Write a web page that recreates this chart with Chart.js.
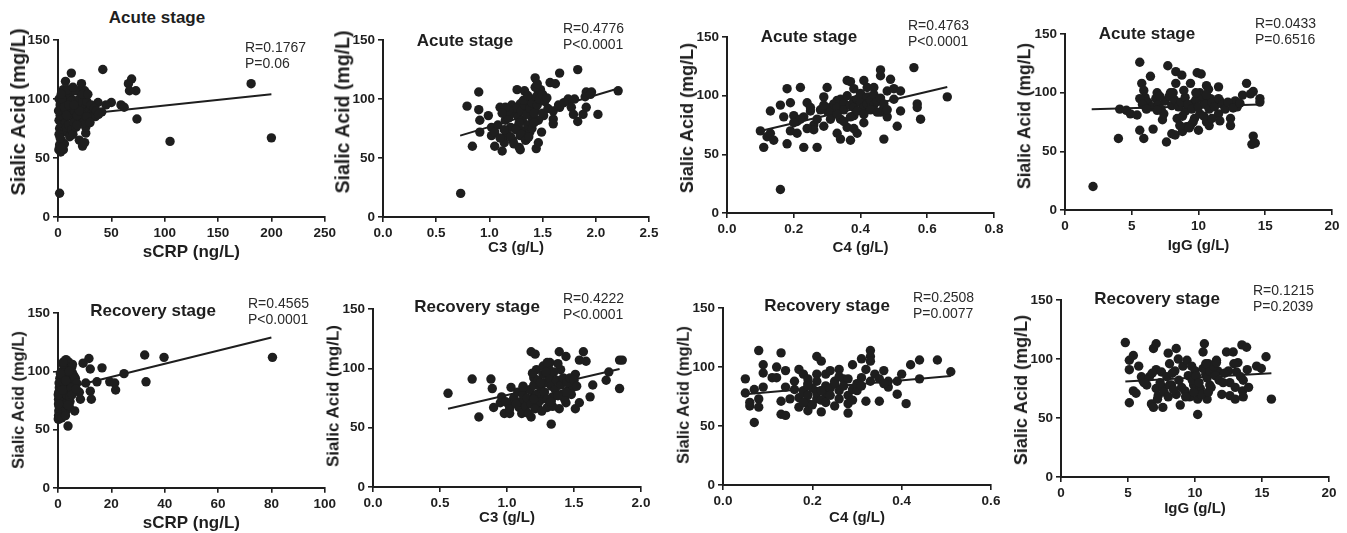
<!DOCTYPE html>
<html>
<head>
<meta charset="utf-8">
<script src="https://cdn.jsdelivr.net/npm/chart.js@4.4.1/dist/chart.umd.min.js"></script>
<style>
body{margin:0;background:#fff;width:1347px;height:533px;position:relative;overflow:hidden;font-family:Arial,"Liberation Sans",sans-serif;color:#1e1e1e;}
canvas{position:absolute;}
.lbl{position:absolute;white-space:nowrap;}
.ttl{font-weight:bold;font-size:17px;line-height:1;transform:translate(-50%,-50%);}
.stat{font-size:14px;line-height:16.5px;color:#2a2a2a;}
.ytl{font-weight:bold;line-height:1;transform:translate(-50%,-50%) rotate(-90deg);}
</style>
</head>
<body>
<script>

// sialic acid (mg/L) vs marker, pairs [x, y]
const acuteCrp = [
[1.5,20],[181,113],[200,67],[105,64],[74,83],[73,107],[69,117],[66,113],[67,107],[42,125],[50,97],[59,95],[62,93],[45,95],[37.5,97],[41,89],[35,85],[12.5,122],[7,115],[22,113],[25,107],[19,107],[6,99],[1,100],[20,65],[23,60],[25,63],[26,71],[26,76],[3,65],[1.5,61],[5,57],[6,62],[9,72],[12.5,71],[16,79],[1,82],[1.5,75],
[2,95],[3,88],[4,92],[5,84],[6,105],[8,102],[9,96],[10,88],[11,104],[12,93],[13,85],[14,99],[15,90],[16,107],[17,82],[18,95],[19,88],[20,100],[21,84],[22,92],[23,97],[24,87],[26,93],[27,98],[28,89],[29,84],[30,91],[31,95],[32,88],[33,86],[34,92],[36,90],[38,87],[3,78],[4,72],[7,80],[8,76],[10,78],[11,68],[13,74],[14,70],[15,80],[17,76],[18,86],[2,86],[0.5,90],[1,70],[2,67],[4,100],[5,108],[7,90],[9,108],[14,110],[12,98],[20,90],[24,80],[27,85],[30,80],[3,104],[6,93],[8,86],[10,95],[15,95],[18,78],[23,104],[28,104],[0.8,57],[2.5,55],[3,58]
];
const acuteC3 = [
[0.73,20],[0.79,94],[0.9,106],[0.9,91],[0.91,82],[0.91,72],[0.84,60],[0.99,86],[1.02,76],[1.02,69],[1.05,60],[1.1,93],[1.12,56],[1.14,63],[1.15,82],[1.16,70],[1.21,95],[1.22,65],[1.26,108],[1.28,59],[1.29,57],[1.33,107],[1.43,118],[1.44,58],[1.46,63],[1.49,72],[1.57,114],[1.62,113],[1.51,86],[1.66,122],[1.6,83],[1.6,79],[1.66,93],[1.74,100],[1.77,93],[1.79,87],[1.83,125],[1.83,81],[1.88,87],[1.91,93],[1.91,106],[1.96,106],[2.02,87],[2.21,107],[1.46,106],[1.48,99],[1.41,99],[1.35,90],[1.4,84],[1.32,73],[1.27,77],[1.2,76],[1.18,84],[1.24,89],[1.29,96],[1.37,97],[1.43,91],[1.46,82],[1.38,72],[1.35,66],[1.29,69],
[1.22,88],[1.25,92],[1.27,85],[1.3,90],[1.31,82],[1.33,95],[1.35,87],[1.36,78],[1.38,92],[1.4,97],[1.42,88],[1.44,102],[1.45,95],[1.47,100],[1.48,108],[1.5,104],[1.52,98],[1.54,101],[1.55,92],[1.43,110],[1.45,113],[1.28,80],[1.25,74],[1.3,70],[1.34,65],[1.37,68],[1.4,75],[1.42,80],[1.18,90],[1.15,93],[1.12,88],[1.08,78],[1.05,72],[1.2,68],[1.23,62],[1.32,99],[1.36,103],[1.5,88],[1.6,90],[1.65,95],[1.7,97],[1.8,100],[1.9,102],[1.95,104],[1.1,67],[1.14,74]
];
const acuteC4 = [
[0.16,20],[0.1,70],[0.11,56],[0.12,65],[0.13,68],[0.13,87],[0.14,62],[0.16,92],[0.17,82],[0.18,106],[0.18,59],[0.19,94],[0.19,70],[0.2,83],[0.21,78],[0.21,68],[0.22,107],[0.23,56],[0.24,94],[0.25,87],[0.26,75],[0.27,56],[0.26,71],[0.29,99],[0.3,107],[0.3,87],[0.31,90],[0.33,96],[0.33,68],[0.34,63],[0.34,80],[0.36,113],[0.37,112],[0.36,73],[0.37,62],[0.38,96],[0.38,106],[0.39,68],[0.38,83],[0.41,113],[0.41,77],[0.42,107],[0.41,97],[0.43,99],[0.44,107],[0.46,122],[0.46,117],[0.47,63],[0.47,90],[0.46,86],[0.48,104],[0.48,82],[0.49,114],[0.5,106],[0.5,97],[0.51,74],[0.52,104],[0.52,87],[0.56,124],[0.57,93],[0.57,90],[0.58,80],[0.66,99],
[0.28,88],[0.29,92],[0.31,86],[0.32,93],[0.33,90],[0.34,97],[0.35,94],[0.35,88],[0.36,100],[0.37,92],[0.38,90],[0.39,97],[0.4,102],[0.4,94],[0.41,90],[0.42,99],[0.42,93],[0.43,96],[0.44,92],[0.44,101],[0.45,95],[0.46,98],[0.47,93],[0.31,80],[0.33,84],[0.35,78],[0.37,82],[0.39,87],[0.41,84],[0.43,88],[0.45,86],[0.27,80],[0.25,90],[0.23,82],[0.22,80],[0.2,77],[0.24,72],[0.29,74],[0.38,72],[0.48,88]
];
const acuteIgg = [
[2.1,20],[4,61],[4.1,86],[4.6,85],[4.9,82],[5.4,81],[5.6,68],[5.6,126],[5.75,108],[5.9,61],[5.9,102],[6,96],[6.4,114],[5.6,95],[6.6,69],[6.9,100],[7.3,77],[7.7,123],[7.6,58],[7.9,100],[8,65],[8.25,64],[8.3,118],[8.3,108],[8.4,78],[8.75,115],[8.8,67],[8.9,102],[9,84],[9.1,71],[9.4,72],[9.4,108],[9.6,91],[9.7,78],[9.9,117],[10,68],[10.2,116],[10.1,100],[10.1,82],[10.4,92],[10.6,75],[10.6,106],[10.75,103],[10.9,95],[11.5,82],[11.5,105],[11.6,76],[11.6,93],[12.4,78],[12.4,72],[12.75,93],[12.9,88],[13.3,98],[13.6,108],[13.9,99],[14,56],[14.1,63],[14.25,57],[14.1,101],[14.6,95],[14.6,92],
[6.2,92],[6.5,88],[6.8,95],[7,90],[7.2,86],[7.5,93],[7.8,97],[8,89],[8.2,94],[8.5,88],[8.7,92],[9,96],[9.2,90],[9.5,86],[9.8,94],[10,88],[10.3,97],[10.5,90],[10.8,86],[11,92],[11.2,88],[11.5,95],[11.8,90],[12,86],[12.2,92],[7.4,82],[8.8,80],[9.6,75],[10.4,80],[10.8,72],[9.3,70],[8.6,72],[11,78],[12.6,87],[13.1,91],[7.1,97],[6.9,85],[5.8,90],[6.1,86],[10.6,98],[9.8,100],[8.1,100]
];
const recovCrp = [
[80.4,112],[32.5,114],[39.75,112],[33,91],[24.75,98],[16.5,103],[14.6,91],[19.4,91],[21.25,90],[21.6,84],[11.6,111],[12.1,102],[12.1,83],[12.5,76],[10.4,90],[9.4,107],[8,82],[8.4,76],[6.25,66],[3.75,53],[0.4,59],
[0.2,62],[0.3,66],[0.4,70],[0.5,74],[0.6,78],[0.3,82],[0.5,86],[0.4,90],[0.7,94],[0.8,68],[1,72],[1.1,76],[1.2,80],[1,84],[1.3,88],[1.2,92],[1.5,96],[1.5,64],[1.8,70],[2,74],[2,78],[2.2,82],[2.3,86],[2.1,90],[2.5,94],[2.6,98],[2.4,102],[2.8,106],[2.6,108],[3,66],[3.2,72],[3.3,76],[3.1,80],[3.5,84],[3.4,88],[3.6,92],[3.8,96],[3.5,100],[3.9,104],[4,108],[4.2,70],[4.5,74],[4.4,78],[4.6,90],[4.8,95],[5,100],[5.2,104],[5.4,106],[5.5,98],[5.8,92],[6,96],[6.2,88],[6.5,94],[7,90],[0.1,59],[0.6,61],[1.4,60],[2.8,62],[1.6,100],[1.9,106],[0.9,98],[0.2,76],[0.2,72],[0.1,80],[1.7,84],[3.7,71],[4.9,86],[5.3,80],[6.8,85],[2.9,92],[4.1,100],[3,110],[2,108]
];
const recovC3 = [
[0.56,79],[0.74,91],[0.79,59],[0.88,91],[0.89,83],[0.9,67],[0.95,71],[0.96,76],[0.98,62],[1.02,62],[1.03,84],[1.01,70],[1.09,67],[1.11,62],[1.12,85],[1.18,59],[1.18,114],[1.21,112],[1.2,92],[1.2,76],[1.22,99],[1.23,67],[1.26,74],[1.3,67],[1.32,105],[1.33,53],[1.34,76],[1.39,114],[1.4,99],[1.39,66],[1.44,110],[1.44,71],[1.45,81],[1.49,84],[1.51,66],[1.51,95],[1.54,107],[1.54,71],[1.57,114],[1.59,106],[1.62,76],[1.64,86],[1.74,90],[1.76,97],[1.84,83],[1.84,107],[1.86,107],
[1.05,75],[1.08,80],[1.1,72],[1.12,78],[1.14,68],[1.15,75],[1.17,82],[1.18,70],[1.2,86],[1.22,78],[1.23,90],[1.24,72],[1.25,84],[1.27,95],[1.28,80],[1.29,88],[1.3,74],[1.31,100],[1.32,92],[1.33,85],[1.34,68],[1.35,97],[1.36,82],[1.37,90],[1.38,104],[1.4,86],[1.41,78],[1.42,92],[1.43,74],[1.45,88],[1.47,92],[1.48,78],[1.5,90],[1.52,85],[1.27,102],[1.3,105],[1.19,96],[1.21,66],[1.16,62],[0.99,72],[1.02,66],[1.07,70],[1.12,84],[1.26,64],[1.33,72],[1.44,80],[1.2,74],[1.38,77],[1.25,88],[1.29,97]
];
const recovC4 = [
[0.05,90],[0.05,78],[0.06,67],[0.06,70],[0.07,81],[0.07,53],[0.08,114],[0.08,73],[0.08,66],[0.09,102],[0.09,83],[0.09,95],[0.11,91],[0.12,100],[0.12,91],[0.13,112],[0.13,71],[0.13,60],[0.14,59],[0.14,97],[0.14,83],[0.15,73],[0.16,81],[0.16,88],[0.17,98],[0.17,66],[0.18,94],[0.18,80],[0.19,86],[0.19,90],[0.19,69],[0.19,63],[0.21,109],[0.21,94],[0.22,105],[0.22,62],[0.21,73],[0.23,84],[0.23,94],[0.23,77],[0.24,97],[0.25,67],[0.25,88],[0.26,98],[0.26,73],[0.27,90],[0.28,90],[0.28,76],[0.28,69],[0.28,61],[0.29,102],[0.29,81],[0.3,80],[0.31,107],[0.31,91],[0.32,71],[0.33,114],[0.33,109],[0.33,105],[0.32,98],[0.34,94],[0.35,71],[0.36,97],[0.37,83],[0.37,88],[0.39,88],[0.39,77],[0.4,94],[0.41,69],[0.42,102],[0.44,106],[0.44,90],[0.48,106],[0.51,96],
[0.17,74],[0.18,78],[0.19,76],[0.2,82],[0.21,78],[0.22,72],[0.22,80],[0.23,70],[0.24,82],[0.24,76],[0.25,86],[0.2,68],[0.18,70],[0.26,80],[0.27,84],[0.3,86],[0.31,84],[0.33,88],[0.35,90],[0.36,86],[0.29,72],[0.26,92],[0.19,84],[0.21,88]
];
const recovIgg = [
[4.8,114],[5.1,99],[5.1,91],[5.1,63],[5.4,103],[5.4,73],[5.6,71],[5.8,94],[6,85],[6.1,82],[6.4,78],[6.6,85],[6.75,62],[6.9,109],[6.9,59],[7.1,113],[7.1,91],[7.1,75],[7.25,69],[7.5,89],[7.6,59],[7.6,76],[8,105],[8.1,96],[8.25,78],[8.5,90],[8.6,70],[8.6,109],[8.75,100],[8.9,61],[9.1,94],[9.25,73],[9.4,99],[9.6,68],[9.75,94],[9.9,78],[10,90],[10.2,53],[10.2,66],[10.4,75],[10.6,106],[10.7,113],[10.8,87],[10.9,66],[11,96],[11.1,78],[11.2,76],[11.6,99],[11.7,90],[12,70],[12.35,106],[12.5,90],[12.6,69],[12.85,106],[13,66],[13.1,89],[13.2,97],[13.5,112],[13.6,82],[13.55,73],[13.6,68],[13.85,110],[13.9,91],[14,76],[14.6,94],[14.95,92],[15.3,102],[15.7,66],
[7.4,80],[7.7,72],[7.9,85],[8.1,78],[8.3,88],[8.8,82],[9,76],[9.5,86],[9.8,82],[10.1,86],[10.3,80],[10.6,92],[10.9,84],[11.1,90],[11.4,94],[11.5,86],[11.8,82],[12.2,88],[12.6,80],[13,76],[7.2,66],[8,68],[9.3,68],[10.5,70],[11,72],[6.2,80],[6.8,88],[12.9,96],[11.6,97],[10.8,96],[9.9,72],[8.4,74],[12.1,80],[13.4,85]
];

// regression lines, endpoints [x, y]
const acuteCrpFit = [[0.5,85],[200,104]];
const acuteC3Fit = [[0.725,69],[2.21,109]];
const acuteC4Fit = [[0.1,70],[0.66,107.5]];
const acuteIggFit = [[2,86],[14.6,90]];
const recovCrpFit = [[0.1,84],[80,129]];
const recovC3Fit = [[0.56,66],[1.84,99.5]];
const recovC4Fit = [[0.05,77],[0.51,92.5]];
const recovIggFit = [[4.8,81],[15.7,88]];

// tick labels
const yTicks = ['0','50','100','150'];
const crpTicksA = ['0','50','100','150','200','250'];
const crpTicksR = ['0','20','40','60','80','100'];
const c3TicksA = ['0.0','0.5','1.0','1.5','2.0','2.5'];
const c3TicksR = ['0.0','0.5','1.0','1.5','2.0'];
const c4TicksA = ['0.0','0.2','0.4','0.6','0.8'];
const c4TicksR = ['0.0','0.2','0.4','0.6'];
const iggTicks = ['0','5','10','15','20'];

const statsR = ['R=0.1767','R=0.4776','R=0.4763','R=0.0433','R=0.4565','R=0.4222','R=0.2508','R=0.1215'];
const statsP = ['P=0.06','P<0.0001','P<0.0001','P=0.6516','P<0.0001','P<0.0001','P=0.0077','P=0.2039'];

const INK = '#1e1e1e';
const FONT = 'Arial, "Liberation Sans", sans-serif';

const panels = [
{pts:acuteCrp, fit:acuteCrpFit, xt:crpTicksA, xTitle:'sCRP (ng/L)', stage:'Acute stage',
 ax:58, top:39, bottom:217, right:325, xtOff:36, xtSize:17, ytSize:20, ytY:112, tx:157, ty:17, sx:245, sy:47},
{pts:acuteC3, fit:acuteC3Fit, xt:c3TicksA, xTitle:'C3 (g/L)', stage:'Acute stage',
 ax:383, top:39, bottom:217, right:649, xtOff:31, xtSize:15, ytSize:19.5, ytY:112, tx:465, ty:40, sx:563, sy:28},
{pts:acuteC4, fit:acuteC4Fit, xt:c4TicksA, xTitle:'C4 (g/L)', stage:'Acute stage',
 ax:727, top:36, bottom:213, right:994, xtOff:35, xtSize:15, ytSize:18, ytY:118, tx:809, ty:36, sx:908, sy:25},
{pts:acuteIgg, fit:acuteIggFit, xt:iggTicks, xTitle:'IgG (g/L)', stage:'Acute stage',
 ax:1065, top:33, bottom:210, right:1332, xtOff:36, xtSize:15, ytSize:17.5, ytY:116, tx:1147, ty:33, sx:1255, sy:23},
{pts:recovCrp, fit:recovCrpFit, xt:crpTicksR, xTitle:'sCRP (ng/L)', stage:'Recovery stage',
 ax:58, top:312, bottom:488, right:325, xtOff:36, xtSize:17, ytSize:16.5, ytY:400, tx:153, ty:310, sx:248, sy:303},
{pts:recovC3, fit:recovC3Fit, xt:c3TicksR, xTitle:'C3 (g/L)', stage:'Recovery stage',
 ax:373, top:308, bottom:487, right:641, xtOff:31, xtSize:15, ytSize:17, ytY:396, tx:477, ty:306, sx:563, sy:298},
{pts:recovC4, fit:recovC4Fit, xt:c4TicksR, xTitle:'C4 (g/L)', stage:'Recovery stage',
 ax:723, top:307, bottom:485, right:991, xtOff:33, xtSize:15, ytSize:16.5, ytY:395, tx:827, ty:305, sx:913, sy:297},
{pts:recovIgg, fit:recovIggFit, xt:iggTicks, xTitle:'IgG (g/L)', stage:'Recovery stage',
 ax:1061, top:299, bottom:477, right:1329, xtOff:32, xtSize:15, ytSize:18, ytY:390, tx:1157, ty:298, sx:1253, sy:290}
];

function addLabel(cls, text, x, y, extra){
const d = document.createElement('div');
d.className = 'lbl ' + cls;
d.textContent = text;
d.style.left = x + 'px';
d.style.top = y + 'px';
if(extra) Object.assign(d.style, extra);
document.body.appendChild(d);
return d;
}

function axisOpts(labels){
return {
type:'linear',
min:parseFloat(labels[0]),
max:parseFloat(labels[labels.length-1]),
afterBuildTicks: s => { s.ticks = labels.map(l => ({value:parseFloat(l)})); },
ticks:{
callback:(v,i) => labels[i],
autoSkip:false, maxRotation:0, padding:3,
color:INK, font:{family:FONT, size:13.5, weight:'bold'}
},
grid:{display:true, drawOnChartArea:false, drawTicks:true, tickLength:5, color:INK, lineWidth:1.6},
border:{display:true, color:INK, width:2}
};
}

panels.forEach((p, k) => {

const lh = p.xtSize * 1.2;
const xH = p.xtOff + lh / 2;
const left = p.ax - 40;
const top = p.top - 10;
const w = p.right + 14 - left;
const h = p.bottom + xH - top;

const cv = document.createElement('canvas');
cv.width = w; cv.height = h;
cv.style.left = left + 'px';
cv.style.top = top + 'px';
cv.style.width = w + 'px';
cv.style.height = h + 'px';
document.body.appendChild(cv);

const xs = axisOpts(p.xt);
xs.title = {display:true, text:p.xTitle, color:INK, padding:0, font:{family:FONT, size:p.xtSize, weight:'bold'}};
xs.afterFit = s => { s.height = xH; };

const ys = axisOpts(yTicks);
ys.afterFit = s => { s.width = 40; };

new Chart(cv, {
type:'scatter',
data:{
datasets:[
{
data:p.pts.map(d => ({x:d[0], y:d[1]})),
pointRadius:4.7, pointHoverRadius:4.7,
pointBackgroundColor:INK, pointBorderWidth:0,
clip:false
},
{
data:p.fit.map(d => ({x:d[0], y:d[1]})),
showLine:true, borderColor:INK, borderWidth:2,
pointRadius:0, clip:false
}
]
},
options:{
responsive:false, animation:false,
devicePixelRatio:1,
layout:{padding:{left:0, top:10, right:14, bottom:0}},
plugins:{legend:{display:false}, tooltip:{enabled:false}},
scales:{x:xs, y:ys}
}
});

addLabel('ttl', p.stage, p.tx, p.ty);
addLabel('stat', statsR[k] + '\n' + statsP[k], p.sx, p.sy - 8.25, {whiteSpace:'pre'});
addLabel('ytl', 'Sialic Acid (mg/L)', p.ax - 40, p.ytY, {fontSize:p.ytSize + 'px'});

});

</script>
</body>
</html>
